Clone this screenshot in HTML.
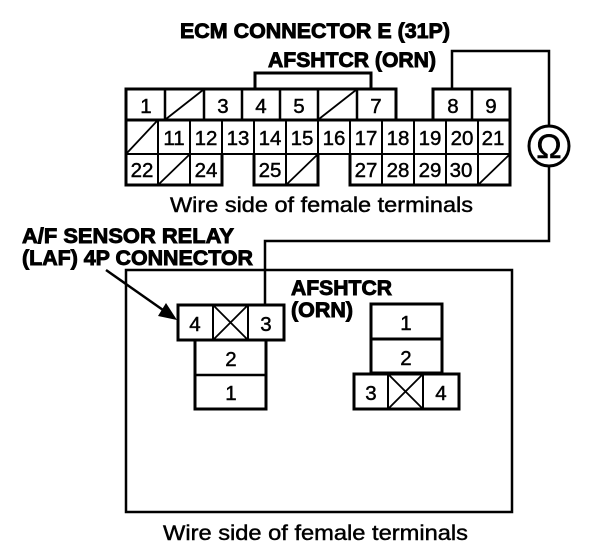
<!DOCTYPE html>
<html><head><meta charset="utf-8"><style>
html,body{margin:0;padding:0;background:#fff}
svg{display:block}
text{font-family:"Liberation Sans",sans-serif;fill:#000}
.n{font-size:20.5px;text-anchor:middle;stroke:#000;stroke-width:.45}
.b{font-weight:bold;stroke:#000;stroke-width:.9;font-size:21px}
.w{font-size:21px;stroke:#000;stroke-width:.45}
</style></head><body>
<svg width="608" height="542" viewBox="0 0 608 542" xmlns="http://www.w3.org/2000/svg">
<rect width="608" height="542" fill="#fff"/>
<text class="b" x="180" y="38" textLength="270" lengthAdjust="spacingAndGlyphs">ECM CONNECTOR E (31P)</text>
<text class="b" x="268" y="67" textLength="168" lengthAdjust="spacingAndGlyphs">AFSHTCR (ORN)</text>

<g fill="none" stroke="#000" stroke-width="3">
<path d="M255 89V73H371V89"/>
<path d="M452 89V51H549V126M549 166V241H265V304" stroke-width="2.5"/>
<circle cx="549" cy="146" r="20"/>
<path d="M126 120V89H396V120M433 120V89H510V185H350V154M318 154V185H254V154M222 154V185H126V120H510"/>
<path d="M165 89V120M204 89V120M242 89V120M280 89V120M318 89V120M357 89V120M472 89V120" stroke-width="2.5"/>
<path d="M158 120V185M190 120V185M222 120V154M254 120V154M286 120V185M318 120V154M350 120V154M382 120V185M414 120V185M446 120V185M478 120V185" stroke-width="2"/>
<path d="M126 154H510" stroke-width="2"/>
<path d="M126 512V270H512V512Z" stroke-width="2.5"/>
<rect x="178" y="305" width="106" height="35"/>
<path d="M213 305V340M248 305V340" stroke-width="2"/>
<path d="M195 340V409H266V340"/>
<path d="M195 375H266" stroke-width="2.5"/>
<rect x="371" y="304" width="71" height="69"/>
<path d="M371 339H442"/>
<rect x="354" y="374" width="105" height="35"/>
<path d="M388 374V409M423 374V409" stroke-width="2"/>
</g>
<g fill="none" stroke="#000" stroke-width="1.8">
<path d="M166 119L203 90M319 119L356 90M127 153L157 121M159 184L189 155M287 184L317 155M479 184L509 155"/>
<path d="M213 340L248 305M213 305L248 340M388 409L423 374M388 374L423 409"/>
</g>
<path d="M106 270L163 310" stroke="#000" stroke-width="2.5"/>
<path d="M177 320L158 316L166 303Z" fill="#000"/>

<g class="n">
<text x="146" y="113">1</text><text x="223" y="113">3</text><text x="261" y="113">4</text><text x="299" y="113">5</text><text x="376" y="113">7</text><text x="453" y="113">8</text><text x="491" y="113">9</text>
<text x="174" y="145">11</text><text x="206" y="145">12</text><text x="238" y="145">13</text><text x="270" y="145">14</text><text x="302" y="145">15</text><text x="334" y="145">16</text><text x="366" y="145">17</text><text x="398" y="145">18</text><text x="430" y="145">19</text><text x="462" y="145">20</text><text x="493" y="145">21</text>
<text x="142" y="177">22</text><text x="206" y="177">24</text><text x="270" y="177">25</text><text x="366" y="177">27</text><text x="398" y="177">28</text><text x="430" y="177">29</text><text x="461" y="177">30</text>
<text x="195" y="331">4</text><text x="266" y="331">3</text><text x="231" y="366">2</text><text x="231" y="400">1</text>
<text x="406" y="330">1</text><text x="406" y="365">2</text><text x="371" y="400">3</text><text x="441" y="400">4</text>
</g>
<text x="549" y="158" font-size="34" text-anchor="middle" stroke="#000" stroke-width=".5">Ω</text>

<text class="w" x="170" y="212" textLength="303" lengthAdjust="spacingAndGlyphs">Wire side of female terminals</text>
<text class="b" x="22" y="243" textLength="212" lengthAdjust="spacingAndGlyphs">A/F SENSOR RELAY</text>
<text class="b" x="22" y="265" textLength="231" lengthAdjust="spacingAndGlyphs">(LAF) 4P CONNECTOR</text>
<text class="b" x="291" y="295" textLength="101" lengthAdjust="spacingAndGlyphs">AFSHTCR</text>
<text class="b" x="291" y="317" textLength="62" lengthAdjust="spacingAndGlyphs">(ORN)</text>
<text class="w" x="163" y="540" textLength="305" lengthAdjust="spacingAndGlyphs">Wire side of female terminals</text>
</svg>
</body></html>
